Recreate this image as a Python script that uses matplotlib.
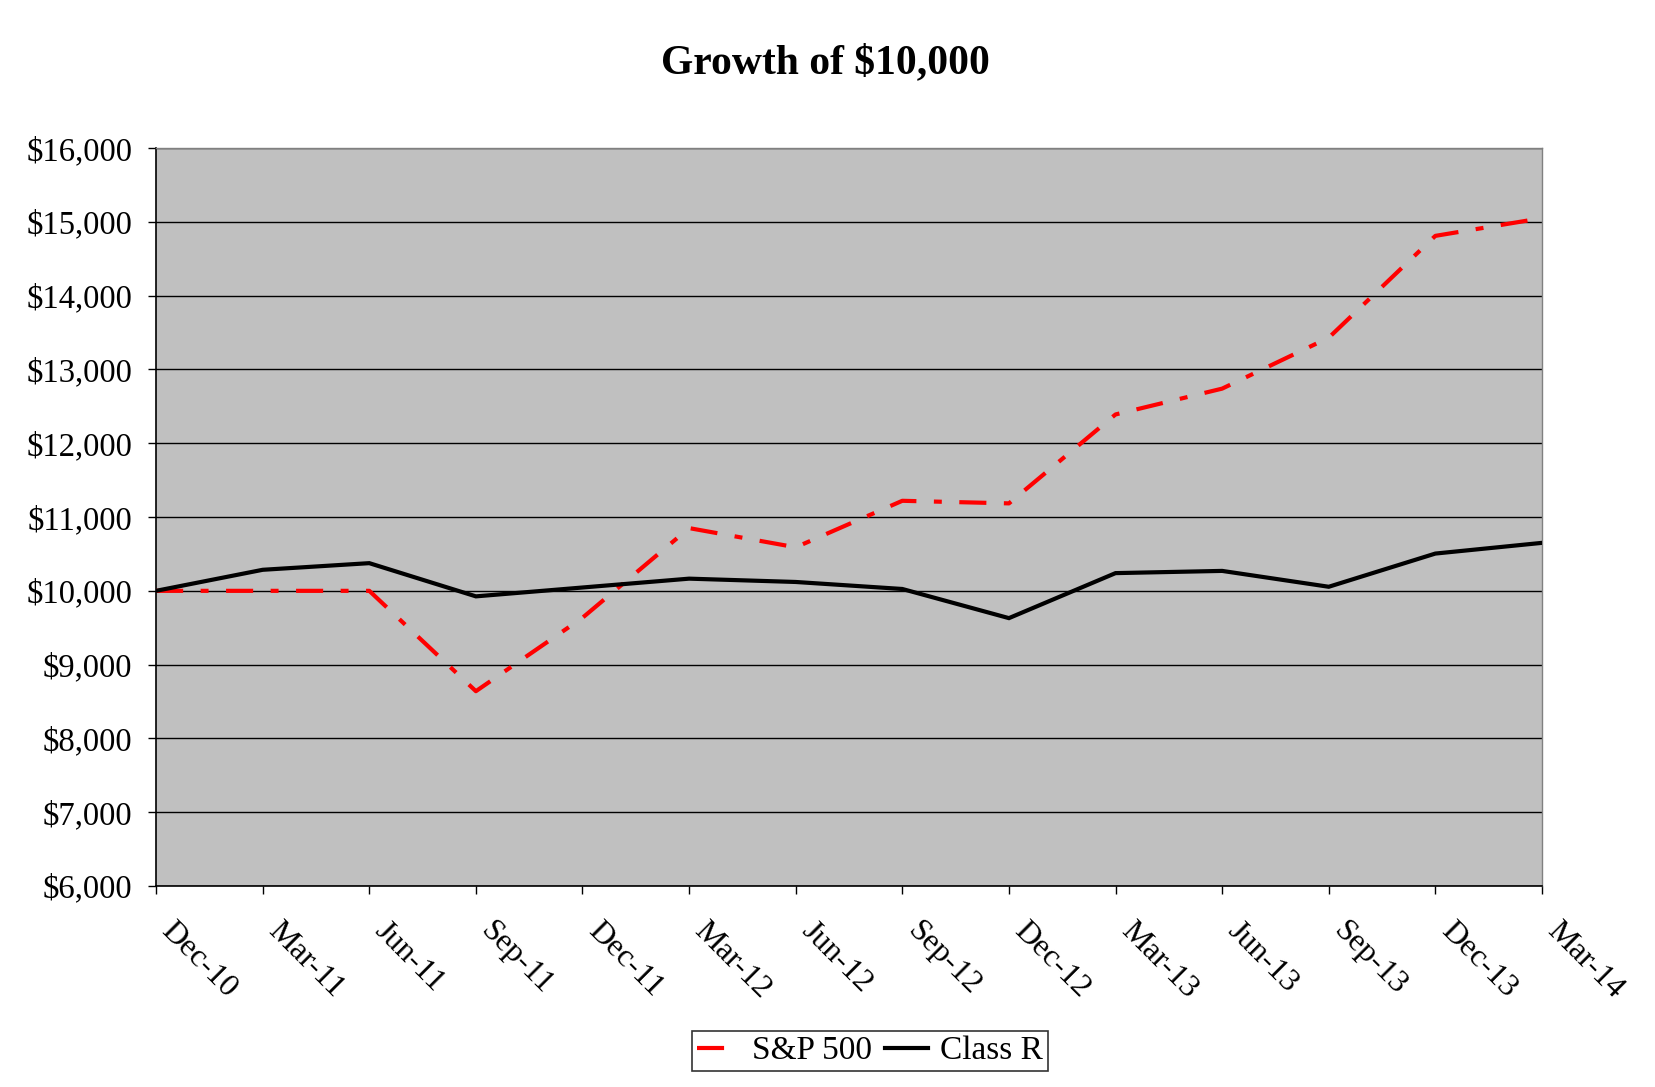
import matplotlib
matplotlib.use("Agg")
import matplotlib.pyplot as plt
from matplotlib.ticker import FuncFormatter
from matplotlib.transforms import ScaledTranslation

plt.rcParams["font.family"] = ["Liberation Serif", "DejaVu Serif"]

# data
quarters = ["Dec-10", "Mar-11", "Jun-11", "Sep-11", "Dec-11", "Mar-12", "Jun-12",
            "Sep-12", "Dec-12", "Mar-13", "Jun-13", "Sep-13", "Dec-13", "Mar-14"]
sp500 = [10000, 10000, 10000, 8640, 9635, 10850, 10590,
         11220, 11185, 12390, 12740, 13430, 14810, 15050]
class_r = [10000, 10285, 10375, 9925, 10045, 10165, 10120,
           10025, 9630, 10240, 10270, 10055, 10505, 10650]
y_ticks = [6000, 7000, 8000, 9000, 10000, 11000, 12000, 13000, 14000, 15000, 16000]

fig = plt.figure(figsize=(16.55, 10.87), dpi=100)
ax = fig.add_axes([0.0943, 0.1849, 0.8374, 0.6789])
ax.set_facecolor("#C0C0C0")

x = list(range(len(quarters)))
l1, = ax.plot(x, sp500, color="red", lw=3, dashes=(6.5, 4.2, 1.9, 4.2),
              dash_capstyle="butt", label="S&P 500", zorder=3)
l2, = ax.plot(x, class_r, color="black", lw=3, label="Class R", zorder=4,
              solid_joinstyle="miter")

ax.set_xlim(0, len(quarters) - 1)
ax.set_ylim(6000, 16000)
ax.set_yticks(y_ticks)
ax.yaxis.set_major_formatter(FuncFormatter(lambda v, p: "${:,.0f}".format(v)))
ax.grid(axis="y", color="black", lw=1)
ax.set_axisbelow(True)

ax.set_xticks(x)
ax.set_xticklabels(quarters, rotation=-45, ha="left", va="center",
                   rotation_mode="anchor")
ax.tick_params(axis="x", direction="out", length=6, width=1, pad=23, labelsize=23)
ax.tick_params(axis="y", direction="out", length=6, width=1, pad=11, labelsize=23.5)
# nudge the slanted labels a bit to the right, like the original
shift = ScaledTranslation(7 / 72, 0, fig.dpi_scale_trans)
for lab in ax.get_xticklabels():
    lab.set_transform(lab.get_transform() + shift)

for s in ["left", "bottom"]:
    ax.spines[s].set_color("black")
    ax.spines[s].set_linewidth(1.2)
for s in ["top", "right"]:
    ax.spines[s].set_color("#808080")
    ax.spines[s].set_linewidth(1)

fig.text(0.499, 0.942, "Growth of $10,000", ha="center", va="center",
         fontsize=30, fontweight="bold")

leg = fig.legend(handles=[l1, l2], loc="center", bbox_to_anchor=(0.5257, 0.0331),
                 ncol=2, fontsize=24, frameon=True, fancybox=False,
                 edgecolor="black", handlelength=1.3, handletextpad=0.35,
                 columnspacing=0.37, borderpad=0.15, borderaxespad=0)
leg.get_frame().set_linewidth(1.2)

fig.savefig("out.png", dpi=100)
